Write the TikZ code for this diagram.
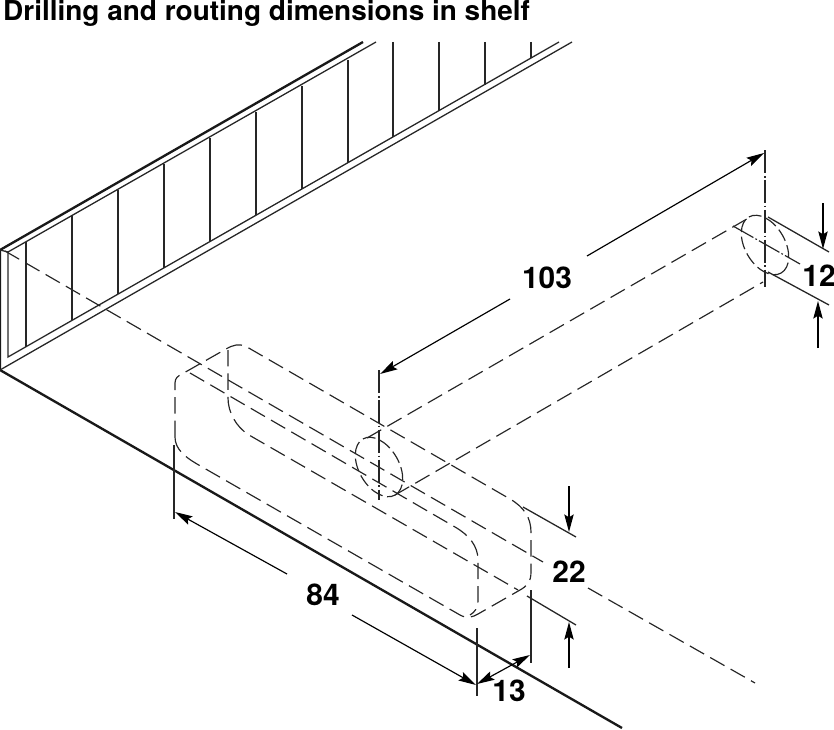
\documentclass[tikz,border=0pt]{standalone}
\usepackage{fontspec}
\setmainfont{TeX Gyre Heros}
\usetikzlibrary{arrows.meta,calc}
\tikzset{
    thinline/.style={line width=1.1pt, black!85},
    heavyline/.style={line width=2.0pt, black!90},
    hidden/.style={line width=1.0pt, black!85, dash pattern=on 14pt off 6pt},
    centerline/.style={line width=1.0pt, black!85, dash pattern=on 20pt off 2pt on 1.5pt off 2pt},
    dimarrow/.style={line width=1.0pt, black, -{Stealth[length=15pt,width=8pt,inset=2.5pt]}},
    dimboth/.style={line width=1.0pt, black, {Stealth[length=15pt,width=8pt,inset=2.5pt]}-{Stealth[length=15pt,width=8pt,inset=2.5pt]}},
    dimtext/.style={font=\fontsize{25.5}{28}\selectfont\bfseries, inner sep=0pt}
}

\begin{document}
\begin{tikzpicture}[x=0.03cm, y=-0.03cm]
    \useasboundingbox (0,0) rectangle (834,730);
    \node[anchor=base west, inner sep=0pt, transform shape, xscale=1.02, font=\fontsize{23.4}{26}\selectfont\bfseries] (title) at (3,20.5) {Drilling and routing dimensions in shelf};

    % shelf side
    \draw[heavyline] (363,42) -- (0,250) -- (0,370) -- (622,728);
    \draw[thinline] (376,42) -- (8,252) -- (8,357) -- (559,42);
    \draw[thinline] (0,370) -- (572,42);
    \draw[thinline] (0,250) -- (8,252);
    \foreach \x/\ya/\yb in {26/242/347, 72/216/320, 118/190/294, 164/164/268, 210/138/241, 256/112/215, 302/86/189, 348/60/163, 393/42/137, 439/42/111, 485/42/85, 531/42/58}
        \draw[thinline] (\x,\ya) -- (\x,\yb);

    % routing
    \draw[hidden] (5,251) -- (543,562);
    \draw[hidden] (588,588) -- (755,683);
    \draw[hidden] (175,437) -- (175,383) .. controls (175,378) and (178,376) .. (182,374) -- (226,349) .. controls (233,345) and (239,343) .. (247,347) -- (510,499) .. controls (524,507) and (531,518) .. (531,532) -- (531,572) .. controls (531,582) and (527,586) .. (520,590) -- (478,614) .. controls (473,617) and (467,619) .. (460,615) -- (197,464) .. controls (185,457) and (175,449) .. (175,437);
    \draw[hidden] (228,350) -- (228,398) .. controls (228,412) and (236,427) .. (249,435) -- (518,590);
    \draw[hidden] (190,373) -- (455,527) .. controls (469,535) and (478,546) .. (478,560) -- (478,600) .. controls (478,608) and (475,612) .. (470,615);

    % bores
    \draw[hidden] (367,438) -- (752,216);
    \draw[hidden] (395,495) -- (763,282);
    \draw[hidden, dash pattern=on 11pt off 4pt, rotate around={-60:(379,467)}] (379,467) ellipse [x radius=0.97cm, y radius=0.6cm];
    \draw[hidden, dash pattern=on 11pt off 4pt, rotate around={-60:(765,245)}] (765,245) ellipse [x radius=0.97cm, y radius=0.6cm];
    \draw[centerline] (379,370) -- (379,500);
    \draw[centerline] (765,150) -- (765,287);
    \draw[centerline] (733,226) -- (800,264);

    % dimensions
    \node[dimtext] (len103) at (547,278) {103};
    \draw[dimarrow] (510,299) -- (380,374);
    \draw[dimarrow] (587,256) -- (764,153);
    \node[dimtext] (dia12) at (819,276) {12};
    \draw[thinline] (768,217) -- (829,252);
    \draw[thinline] (768,272) -- (829,305);
    \draw[dimarrow] (823,203) -- (823,249);
    \draw[dimarrow] (818,348) -- (818,301);
    \node[dimtext] (wid22) at (569,572) {22};
    \draw[thinline] (523,507) -- (576,537);
    \draw[thinline] (527,596) -- (576,625);
    \draw[dimarrow] (569,486) -- (569,532);
    \draw[dimarrow] (569,668) -- (569,622);
    \node[dimtext] (len84) at (323,595) {84};
    \draw[thinline] (174,445) -- (174,519);
    \draw[thinline] (477,628) -- (477,696);
    \draw[thinline] (531,590) -- (531,663);
    \draw[dimarrow] (287,574) -- (175,512);
    \draw[dimarrow] (352,615) -- (476,685);
    \node[dimtext] (dep13) at (509,691) {13};
    \draw[dimboth] (477,684) -- (530,655);
\end{tikzpicture}
\end{document}
